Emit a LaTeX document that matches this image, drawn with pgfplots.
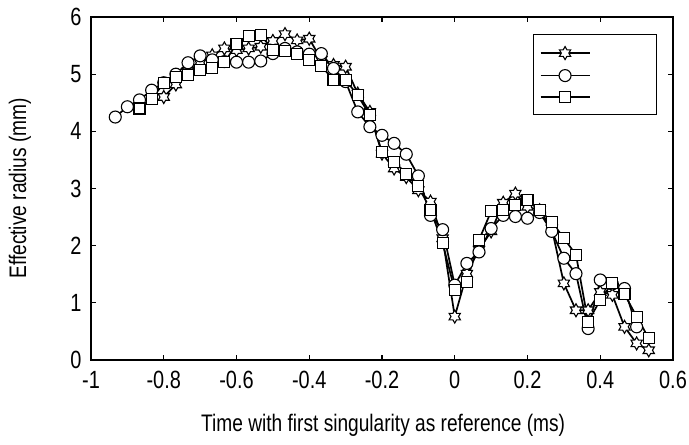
\documentclass[border=0pt]{standalone}
\usepackage{fontspec}
\setmainfont{Liberation Sans}[FakeStretch=0.8]
\usepackage{pgfplots}
\pgfplotsset{compat=1.18}

\pgfdeclareplotmark{hexstar}{%
  \pgfpathmoveto{\pgfpointpolar{90}{\pgfplotmarksize}}%
  \pgfpathlineto{\pgfpointpolar{120}{0.577\pgfplotmarksize}}%
  \pgfpathlineto{\pgfpointpolar{150}{\pgfplotmarksize}}%
  \pgfpathlineto{\pgfpointpolar{180}{0.577\pgfplotmarksize}}%
  \pgfpathlineto{\pgfpointpolar{210}{\pgfplotmarksize}}%
  \pgfpathlineto{\pgfpointpolar{240}{0.577\pgfplotmarksize}}%
  \pgfpathlineto{\pgfpointpolar{270}{\pgfplotmarksize}}%
  \pgfpathlineto{\pgfpointpolar{300}{0.577\pgfplotmarksize}}%
  \pgfpathlineto{\pgfpointpolar{330}{\pgfplotmarksize}}%
  \pgfpathlineto{\pgfpointpolar{0}{0.577\pgfplotmarksize}}%
  \pgfpathlineto{\pgfpointpolar{30}{\pgfplotmarksize}}%
  \pgfpathlineto{\pgfpointpolar{60}{0.577\pgfplotmarksize}}%
  \pgfpathclose
  \pgfusepathqfillstroke
}

\begin{document}
\begin{tikzpicture}
\begin{axis}[
  scale only axis, width=582bp, height=343bp,
  xmin=-1, xmax=0.6, ymin=0, ymax=6,
  xtick={-1,-0.8,-0.6,-0.4,-0.2,0,0.2,0.4,0.6},
  xticklabels={-1,-0.8,-0.6,-0.4,-0.2,0,0.2,0.4,0.6},
  ytick={0,1,2,3,4,5,6},
  yticklabels={0,1,2,3,4,5,6},
  /pgf/number format/assume math mode=true,
  tick label style={font=\fontsize{25}{30}\selectfont},
  xticklabel style={yshift=-8bp},
  yticklabel style={xshift=-6bp},
  label style={font=\fontsize{24}{28}\selectfont},
  axis line style={line width=1.6bp},
  major tick length=5bp,
  every tick/.style={black, line width=1.2bp},
  xlabel={Time with first singularity as reference (ms)},
  ylabel={Effective radius (mm)},
  xlabel style={at={(axis description cs:0.502,-0.19)}, anchor=center},
  ylabel style={at={(axis description cs:-0.122,0.5)}, anchor=center, rotate=0},
  legend style={at={(1,1)}, anchor=north east, xshift=-16bp, yshift=-17bp,
    draw=black, line width=1.2bp, inner xsep=6bp, inner ysep=12bp,
    row sep=10bp, font=\fontsize{16}{18}\selectfont},
  legend image code/.code={\draw[mark repeat=2,mark phase=2] plot coordinates {(0bp,0bp)(24.5bp,0bp)(49bp,0bp)};},
]
\addplot[black, line width=1.7bp, mark=hexstar, mark size=6.5bp, mark options={fill=white, line width=1.1bp}] coordinates {
(-0.8,4.60) (-0.7667,4.82) (-0.7333,5.05) (-0.7,5.20) (-0.6667,5.33) (-0.6333,5.45)
(-0.6,5.42) (-0.5667,5.45) (-0.5333,5.48) (-0.5,5.58) (-0.4667,5.70) (-0.4333,5.59)
(-0.4,5.62) (-0.3667,5.25) (-0.3333,5.16) (-0.3,5.13) (-0.2667,4.66) (-0.2333,4.34)
(-0.2,3.61) (-0.1667,3.35) (-0.1333,3.20) (-0.1,2.97) (-0.0667,2.77) (-0.0333,2.13)
(0,0.76) (0.0333,1.51) (0.0667,1.93) (0.1,2.25) (0.1333,2.75) (0.1667,2.91)
(0.2,2.68) (0.2333,2.62) (0.2667,2.30) (0.3,1.34) (0.3333,0.87) (0.3667,0.87)
(0.4,1.19) (0.4333,1.14) (0.4667,0.58) (0.5,0.29) (0.5333,0.17)
};
\addlegendentry{\hspace*{56bp}}
\addplot[black, line width=1.7bp, mark=*, mark size=6bp, mark options={fill=white, line width=1.1bp}] coordinates {
(-0.9333,4.25) (-0.9,4.43) (-0.8667,4.55) (-0.8333,4.72) (-0.8,4.85) (-0.7667,5.00)
(-0.7333,5.20) (-0.7,5.32) (-0.6667,5.25) (-0.6333,5.22) (-0.6,5.21) (-0.5667,5.21)
(-0.5333,5.23) (-0.5,5.36) (-0.4667,5.45) (-0.4333,5.39) (-0.4,5.35) (-0.3667,5.36)
(-0.3333,5.10) (-0.3,4.87) (-0.2667,4.34) (-0.2333,4.08) (-0.2,3.93) (-0.1667,3.79)
(-0.1333,3.60) (-0.1,3.22) (-0.0667,2.53) (-0.0333,2.28) (0,1.31) (0.0333,1.69)
(0.0667,1.89) (0.1,2.30) (0.1333,2.53) (0.1667,2.51) (0.2,2.48) (0.2333,2.58)
(0.2667,2.25) (0.3,1.78) (0.3333,1.51) (0.3667,0.55) (0.4,1.40) (0.4333,1.33)
(0.4667,1.25) (0.5,0.58)
};
\addlegendentry{\hspace*{56bp}}
\addplot[black, line width=1.7bp, mark=square*, mark size=5.5bp, mark options={fill=white, line width=1.1bp}] coordinates {
(-0.8667,4.40) (-0.8333,4.57) (-0.8,4.84) (-0.7667,4.95) (-0.7333,4.98) (-0.7,5.08)
(-0.6667,5.10) (-0.6333,5.21) (-0.6,5.52) (-0.5667,5.66) (-0.5333,5.68) (-0.5,5.43)
(-0.4667,5.40) (-0.4333,5.36) (-0.4,5.24) (-0.3667,5.14) (-0.3333,4.90) (-0.3,4.90)
(-0.2667,4.63) (-0.2333,4.28) (-0.2,3.64) (-0.1667,3.47) (-0.1333,3.26) (-0.1,3.04)
(-0.0667,2.63) (-0.0333,2.04) (0,1.22) (0.0333,1.37) (0.0667,2.10) (0.1,2.60)
(0.1333,2.63) (0.1667,2.71) (0.2,2.80) (0.2333,2.62) (0.2667,2.42) (0.3,2.13)
(0.3333,1.84) (0.3667,0.67) (0.4,1.05) (0.4333,1.35) (0.4667,1.15) (0.5,0.76)
(0.5333,0.38)
};
\addlegendentry{\hspace*{56bp}}
\end{axis}
\pgfresetboundingbox
\path[use as bounding box] ([shift={(-91bp,-85bp)}]current axis.south west) rectangle ([shift={(598bp,360bp)}]current axis.south west);
\end{tikzpicture}
\end{document}
